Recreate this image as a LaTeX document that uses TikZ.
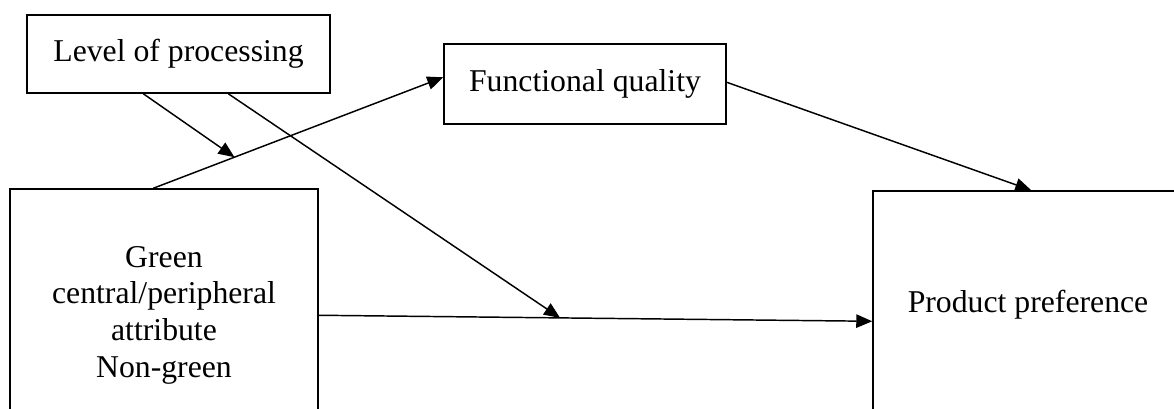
\documentclass[tikz,border=0pt]{standalone}
\usepackage{fontspec}
\setmainfont{Liberation Serif}
\usetikzlibrary{arrows.meta,calc}
\begin{document}
\begin{tikzpicture}[x=0.75pt,y=-0.75pt,
  box/.style={draw,line width=1.1pt,inner sep=0pt,align=center,
    font=\fontsize{23.8}{27.5}\selectfont},
  conn/.style={line width=1.1pt,-{Triangle[length=12pt,width=10pt]}}]
\useasboundingbox (0,0) rectangle (1174,408);
\node[box,minimum width=227.25pt,minimum height=58.5pt] (L) at (178.5,54) {Level of processing};
\node[box,minimum width=211.5pt,minimum height=60pt] (F) at (585,84) {Functional quality};
\node[box,minimum width=231pt,minimum height=189pt] (G) at (164,315) {Green\\central/peripheral\\attribute\\Non-green};
\node[box,minimum width=232.5pt,minimum height=171pt] (P) at (1028,305) {Product preference};
\coordinate (gt) at ($(G.north west)+(144,0)$);
\coordinate (fl) at ($(F.north west)+(0,34)$);
\coordinate (fr) at ($(F.north east)+(0,39)$);
\coordinate (pt) at ($(P.north west)+(159,0)$);
\coordinate (gr) at ($(G.north east)+(0,127)$);
\coordinate (pl) at ($(P.north west)+(0,131)$);
\coordinate (l1) at ($(L.south west)+(117,0)$);
\coordinate (l2) at ($(L.south west)+(202,0)$);
\coordinate (m1) at ($(gt)!0.28!(fl)$);
\coordinate (m2) at ($(gr)!0.436!(pl)$);
\draw[conn] (gt) -- (fl);
\draw[conn] (fr) -- (pt);
\draw[conn] (gr) -- (pl);
\draw[conn] (l1) -- (m1);
\draw[conn] (l2) -- (m2);
\end{tikzpicture}
\end{document}
